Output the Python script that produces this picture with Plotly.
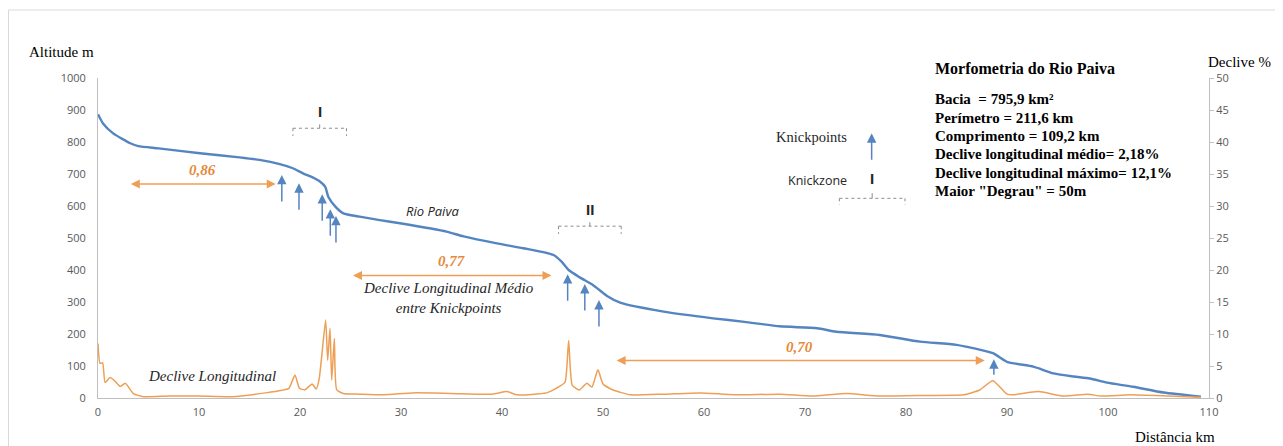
import plotly.graph_objects as go

# ------------------------------------------------------------------ data
# longitudinal profile of the river (distance km -> altitude m)
profile_km = [0, 0.5, 1.5, 3.2, 4.0, 6.0, 10.1, 14.0, 16.0, 18.0, 19.3, 20.3, 21.2, 22.0,
              22.5, 22.8, 23.5, 24.3, 25.9, 27.9, 29.9, 34.5, 36.2, 39.5, 42.1, 45.1,
              45.9, 46.6, 47.7, 49.0, 50.4, 51.7, 56.0, 60.9, 64.0, 67.5, 71.2, 73.1,
              77.4, 81.4, 85.0, 88.6, 90.0, 92.6, 94.6, 96.6, 98.2, 99.9, 102.5, 105.5,
              109.2]
profile_alt_m = [887, 858, 827, 796, 787, 780, 765, 752, 744, 731, 718, 702, 690, 676,
                 660, 629, 598, 577, 567, 556, 546, 520, 505, 483, 468, 447,
                 426, 400, 377, 353, 319, 298, 270, 249, 238, 224, 218, 207,
                 197, 176, 166, 140, 113, 98, 77, 67, 61, 48, 35, 17,
                 4]

# longitudinal slope (distance km -> slope %)
slope_km = [0, 0.2, 0.46, 0.7, 1.2, 1.7, 2.2, 2.7, 3.5, 4.5, 7.0, 10.0, 13.3, 16.6,
            18.2, 18.9, 19.5, 19.95, 20.5, 21.2, 21.6, 21.9, 22.15, 22.54, 22.74, 22.97,
            23.14, 23.4, 23.63, 24.3, 25.9, 28.3, 31.2, 35.0, 39.0, 40.5, 41.5, 44.4,
            45.7, 46.25, 46.6, 46.95, 47.65, 48.4, 48.9, 49.5, 50.0, 51.0, 52.7, 56.0,
            59.6, 63.0, 67.5, 70.8, 74.1, 77.4, 82.0, 85.7, 87.3, 88.6, 90.0, 90.6,
            93.1, 95.6, 98.0, 99.3, 102.2, 106.0, 109.2]
slope_pct = [8.5, 5.4, 5.5, 2.4, 3.2, 2.6, 1.8, 2.3, 0.7, 0.2, 0.3, 0.3, 0.2, 0.8,
             1.2, 1.5, 3.6, 1.5, 1.3, 2.2, 1.4, 3.0, 6.5, 12.2, 5.9, 10.9,
             2.8, 9.3, 1.3, 0.7, 0.6, 0.5, 0.8, 0.7, 0.6, 1.0, 0.5, 0.8,
             1.8, 2.5, 9.0, 2.0, 1.25, 2.3, 1.7, 4.4, 2.2, 1.25, 0.5, 0.6,
             0.8, 0.5, 0.6, 0.3, 0.7, 0.3, 0.4, 0.5, 1.25, 2.7, 0.6, 0.5,
             1.0, 0.3, 0.6, 0.3, 0.5, 0.3, 0.1]

# knickpoints (distance km, altitude m of the arrow tip)
knick_km = [18.2, 19.9, 22.2, 23.0, 23.56, 46.5, 48.2, 49.6, 88.7]
knick_alt_m = [697, 671, 637, 590, 569, 387, 356, 306, 121]

# mean slope between knickpoints
seg_start_km = [3.1, 25.1, 51.2]
seg_end_km = [17.6, 44.9, 87.8]
seg_alt_m = [669, 383, 117]
seg_labels = ["0,86", "0,77", "0,70"]

# knickzones
zone_labels = ["I", "II"]
zone_start_km = [19.3, 45.6]
zone_end_km = [24.6, 51.8]
zone_alt_m = [843, 537]

info_title = "Morfometria do Rio Paiva"
info_lines = ["Bacia  = 795,9 km²", "Perímetro = 211,6 km", "Comprimento = 109,2 km",
              "Declive longitudinal médio= 2,18%", "Declive longitudinal máximo= 12,1%",
              "Maior \"Degrau\" = 50m"]

x_ticks = list(range(0, 111, 10))
alt_ticks = list(range(0, 1001, 100))
slope_ticks = list(range(0, 51, 5))

# ------------------------------------------------------------------ styles / layout
OFF = 8                      # page body margin of the html page
W, H = 1283 - OFF, 446 - OFF
PL, PR, PT, PB = 98, 1209, 78, 398          # plot area in page pixels
L, T = PL - OFF, PT - OFF
R, B = W - (PR - OFF), H - (PB - OFF)
PW, PH = PR - PL, PB - PT
BLUE = "#5585C0"
ORANGE = "#EE9F56"
ORANGE_TXT = "#E58A3C"
GREY_AX = "#BFBFBF"
TICK_TXT = "#595959"
SERIF = "Liberation Serif"
SANS = "Open Sans"


def px(xp):
    return (xp - PL) / PW


def py(yp):
    return (PB - yp) / PH


fig = go.Figure()
fig.add_trace(go.Scatter(x=profile_km, y=profile_alt_m, mode="lines",
                         line=dict(color=BLUE, width=2.4, shape="spline", smoothing=0.6),
                         hoverinfo="skip", showlegend=False))
fig.add_trace(go.Scatter(x=slope_km, y=slope_pct, mode="lines", yaxis="y2",
                         line=dict(color=ORANGE, width=1.5, shape="spline", smoothing=0.5),
                         hoverinfo="skip", showlegend=False))

ann = []
shapes = []


def text_ann(xp, yp, text, font, xanchor="center"):
    ann.append(dict(x=px(xp), y=py(yp), xref="paper", yref="paper", xanchor=xanchor,
                    yanchor="middle", showarrow=False, text=text, font=font))


# knickpoint arrows
for i, (k, a) in enumerate(zip(knick_km, knick_alt_m)):
    ann.append(dict(x=k, y=a, xref="x", yref="y", ax=0, ay=17 if i == len(knick_km) - 1 else 28,
                    axref="pixel", ayref="pixel", text="", showarrow=True,
                    arrowhead=2, arrowsize=1.25, arrowwidth=1.5, arrowcolor=BLUE))

# mean slope double arrows + labels
for s, e, a, lab in zip(seg_start_km, seg_end_km, seg_alt_m, seg_labels):
    ann.append(dict(x=e, y=a, ax=s, ay=a, xref="x", yref="y", axref="x", ayref="y",
                    text="", showarrow=True, arrowside="end+start", arrowhead=2,
                    arrowsize=1.2, arrowwidth=1.5, arrowcolor=ORANGE))
    ann.append(dict(x=(s + e) / 2, y=a, xref="x", yref="y", yshift=14, showarrow=False,
                    xanchor="center", yanchor="middle",
                    text="<b><i>%s</i></b>" % lab,
                    font=dict(family=SERIF, size=15, color=ORANGE_TXT)))


def bracket(x0, x1, yv, down, up):
    xm = (x0 + x1) / 2
    st = dict(color="#8C8C8C", width=1, dash="dot")
    shapes.append(dict(type="line", xref="x", yref="y", x0=x0, x1=x1, y0=yv, y1=yv, line=st))
    shapes.append(dict(type="line", xref="x", yref="y", x0=x0, x1=x0, y0=yv, y1=yv - down, line=st))
    shapes.append(dict(type="line", xref="x", yref="y", x0=x1, x1=x1, y0=yv, y1=yv - down, line=st))
    shapes.append(dict(type="line", xref="x", yref="y", x0=xm, x1=xm, y0=yv, y1=yv + up,
                       line=dict(color="#8C8C8C", width=1)))


for lab, s, e, a in zip(zone_labels, zone_start_km, zone_end_km, zone_alt_m):
    bracket(s, e, a, 24, 12)
    ann.append(dict(x=(s + e) / 2, y=a, xref="x", yref="y", yshift=17, showarrow=False,
                    xanchor="center", yanchor="middle",
                    text="<b>%s</b>" % lab, font=dict(family="Liberation Sans", size=15, color="#262626")))

# legend
text_ann(849, 137, "Knickpoints", dict(family=SERIF, size=14.5, color="#262626"), "right")
ann.append(dict(x=76.6, y=827, xref="x", yref="y", ax=0, ay=28, axref="pixel", ayref="pixel",
                text="", showarrow=True, arrowhead=2, arrowsize=1.25, arrowwidth=1.5, arrowcolor=BLUE))
text_ann(849, 180, "Knickzone", dict(family=SANS, size=12.5, color="#262626"), "right")
bracket(73.4, 79.9, 624, 20, 16)
ann.append(dict(x=76.65, y=624, xref="x", yref="y", yshift=20, showarrow=False,
                xanchor="center", yanchor="middle",
                text="<b>I</b>", font=dict(family="Liberation Sans", size=15, color="#262626")))

# info box
text_ann(933, 68.5, "<b>%s</b>" % info_title, dict(family=SERIF, size=16, color="#000000"), "left")
for i, line in enumerate(info_lines):
    text_ann(933, 99.5 + i * 18.3, "<b>%s</b>" % line, dict(family=SERIF, size=15, color="#000000"), "left")

# in-chart labels
text_ann(432, 211, "<i>Rio Paiva</i>", dict(family=SANS, size=13, color="#262626"))
text_ann(448, 298, "<i>Declive Longitudinal Médio<br>entre Knickpoints</i>",
         dict(family=SERIF, size=15, color="#262626"))
text_ann(212, 376, "<i>Declive Longitudinal</i>", dict(family=SERIF, size=15, color="#262626"))

# axis titles
text_ann(96, 52, "Altitude m", dict(family=SERIF, size=15, color="#000000"), "right")
text_ann(1273, 62, "Declive %", dict(family=SERIF, size=15, color="#000000"), "right")
text_ann(1217, 437, "Distância km", dict(family=SERIF, size=15, color="#000000"), "right")

# outer frame
shapes.append(dict(type="rect", xref="paper", yref="paper", x0=px(OFF + 0.5), x1=px(1279),
                   y0=py(460), y1=py(10), line=dict(color="#D9D9D9", width=1)))

tickfont = dict(family=SANS, size=11, color=TICK_TXT)
fig.update_layout(
    width=W, height=H, margin=dict(l=L, r=R, t=T, b=B, autoexpand=False),
    paper_bgcolor="white", plot_bgcolor="white",
    xaxis=dict(range=[0, 110], tickvals=x_ticks, showgrid=False, zeroline=False,
               showline=True, linecolor=GREY_AX, linewidth=1, ticks="", tickfont=tickfont,
               ticklabelstandoff=4),
    yaxis=dict(range=[0, 1000], tickvals=alt_ticks, showgrid=False, zeroline=False,
               showline=True, linecolor=GREY_AX, linewidth=1, ticks="", tickfont=tickfont,
               ticklabelstandoff=9),
    yaxis2=dict(range=[0, 50], tickvals=slope_ticks, overlaying="y", side="right",
                showgrid=False, zeroline=False, showline=True, linecolor=GREY_AX,
                linewidth=1, ticks="outside", ticklen=4, tickcolor=GREY_AX, tickfont=tickfont),
    annotations=ann, shapes=shapes,
)
fig.write_html("out.html")
